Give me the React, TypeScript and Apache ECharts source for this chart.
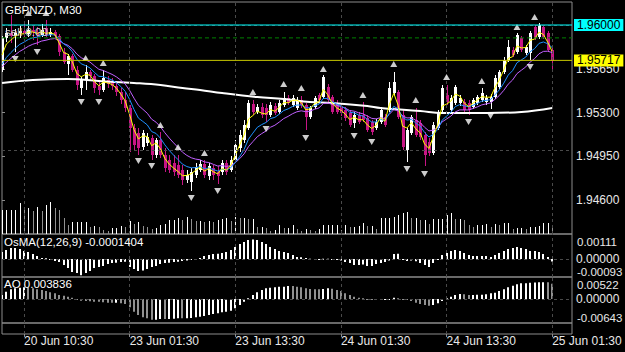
import React, { useEffect, useRef } from 'react';
import * as echarts from 'echarts';

// ---- data (M30 bars, index 0..125) ----
const opens = [
  1.95640,1.95896,1.95936,1.95912,1.95936,1.95952,1.95928,1.95960,1.95944,1.95920,
  1.95976,1.95920,1.95944,1.95912,1.95784,1.95688,1.95752,1.95640,1.95496,1.95560,
  1.95624,1.95592,1.95512,1.95480,1.95560,1.95544,1.95512,1.95464,1.95400,1.95336,
  1.95176,1.95136,1.95024,1.95056,1.95096,1.94960,1.95080,1.94960,1.94920,1.94896,
  1.94880,1.94840,1.94760,1.94744,1.94800,1.94840,1.94888,1.94792,1.94856,1.94824,
  1.94824,1.94896,1.94840,1.94920,1.95016,1.95080,1.95176,1.95368,1.95304,1.95344,
  1.95336,1.95280,1.95352,1.95304,1.95360,1.95416,1.95360,1.95336,1.95400,1.95360,
  1.95264,1.95344,1.95440,1.95424,1.95504,1.95424,1.95376,1.95344,1.95320,1.95296,
  1.95216,1.95280,1.95280,1.95256,1.95224,1.95176,1.95224,1.95264,1.95320,1.95456,
  1.95464,1.95280,1.95000,1.95136,1.95240,1.95216,1.95120,1.95064,1.94976,1.95176,
  1.95320,1.95440,1.95320,1.95376,1.95376,1.95384,1.95376,1.95344,1.95376,1.95400,
  1.95384,1.95384,1.95424,1.95504,1.95624,1.95720,1.95800,1.95784,1.95896,1.95776,
  1.95776,1.95984,1.95904,1.95984,1.95936,1.95800
];
const closes = [
  1.95896,1.95936,1.95912,1.95936,1.95952,1.95928,1.95960,1.95944,1.95920,1.95960,
  1.95920,1.95944,1.95912,1.95784,1.95704,1.95752,1.95640,1.95520,1.95560,1.95624,
  1.95592,1.95496,1.95480,1.95576,1.95528,1.95512,1.95464,1.95400,1.95336,1.95176,
  1.95040,1.95016,1.95136,1.95104,1.94960,1.95080,1.94960,1.94856,1.94840,1.94824,
  1.94800,1.94760,1.94800,1.94824,1.94864,1.94888,1.94800,1.94872,1.94800,1.94792,
  1.94896,1.94824,1.94920,1.95040,1.95120,1.95200,1.95376,1.95304,1.95344,1.95280,
  1.95280,1.95360,1.95296,1.95376,1.95416,1.95376,1.95416,1.95400,1.95360,1.95264,
  1.95336,1.95416,1.95400,1.95584,1.95400,1.95304,1.95304,1.95296,1.95256,1.95200,
  1.95280,1.95224,1.95240,1.95160,1.95144,1.95224,1.95320,1.95200,1.95496,1.95544,
  1.95264,1.95024,1.95160,1.95264,1.95120,1.95104,1.94960,1.94976,1.95200,1.95304,
  1.95496,1.95384,1.95416,1.95504,1.95416,1.95320,1.95320,1.95400,1.95424,1.95456,
  1.95416,1.95424,1.95576,1.95624,1.95720,1.95824,1.95760,1.95920,1.95800,1.95824,
  1.95936,1.95896,1.96000,1.95904,1.95800,1.95712
];
const highs = [
  1.95912,1.95976,1.96080,1.95968,1.96000,1.96008,1.96040,1.96000,1.95984,1.96008,
  1.96040,1.95976,1.95960,1.95928,1.95816,1.95768,1.95768,1.95672,1.95584,1.95680,
  1.95640,1.95608,1.95560,1.95640,1.95592,1.95576,1.95544,1.95496,1.95464,1.95360,
  1.95208,1.95176,1.95160,1.95136,1.95120,1.95096,1.95144,1.95016,1.94960,1.94960,
  1.94960,1.94880,1.94840,1.94856,1.94896,1.94920,1.94920,1.94896,1.94880,1.94872,
  1.94920,1.94920,1.94952,1.95080,1.95160,1.95240,1.95400,1.95400,1.95368,1.95376,
  1.95368,1.95384,1.95376,1.95400,1.95464,1.95440,1.95440,1.95424,1.95432,1.95376,
  1.95352,1.95432,1.95456,1.95600,1.95528,1.95440,1.95400,1.95368,1.95344,1.95320,
  1.95304,1.95304,1.95384,1.95280,1.95240,1.95248,1.95344,1.95288,1.95544,1.95624,
  1.95480,1.95320,1.95176,1.95280,1.95336,1.95240,1.95144,1.95096,1.95224,1.95320,
  1.95520,1.95520,1.95440,1.95520,1.95440,1.95408,1.95400,1.95416,1.95440,1.95496,
  1.95440,1.95448,1.95600,1.95640,1.95744,1.95880,1.95824,1.95936,1.95912,1.95840,
  1.95952,1.96000,1.96016,1.96000,1.95952,1.95816
];
const lows = [
  1.95624,1.95864,1.95856,1.95784,1.95896,1.95904,1.95904,1.95880,1.95840,1.95904,
  1.95904,1.95904,1.95896,1.95752,1.95688,1.95600,1.95624,1.95480,1.95440,1.95480,
  1.95560,1.95456,1.95440,1.95464,1.95496,1.95480,1.95432,1.95368,1.95304,1.94984,
  1.95000,1.94960,1.95000,1.95032,1.94920,1.94936,1.94936,1.94824,1.94816,1.94792,
  1.94776,1.94720,1.94736,1.94672,1.94776,1.94824,1.94776,1.94760,1.94760,1.94728,
  1.94800,1.94800,1.94824,1.94904,1.94984,1.95056,1.95160,1.95280,1.95288,1.95256,
  1.95224,1.95264,1.95280,1.95288,1.95344,1.95360,1.95344,1.95320,1.95336,1.95160,
  1.95248,1.95328,1.95384,1.95408,1.95384,1.95288,1.95288,1.95272,1.95232,1.95184,
  1.95176,1.95208,1.95224,1.95144,1.95120,1.95160,1.95208,1.95184,1.95304,1.95440,
  1.95248,1.95000,1.94904,1.95120,1.95104,1.95080,1.94872,1.94952,1.94960,1.95160,
  1.95304,1.95360,1.95304,1.95360,1.95352,1.95304,1.95280,1.95328,1.95360,1.95384,
  1.95360,1.95328,1.95408,1.95488,1.95608,1.95704,1.95744,1.95768,1.95784,1.95760,
  1.95720,1.95880,1.95888,1.95888,1.95784,1.95624
];
const volumes = [
  600,600,600,600,775,650,650,575,675,575,
  725,800,650,600,400,225,300,300,300,300,
  175,200,175,100,75,150,150,200,175,325,
  250,300,200,175,125,150,225,250,350,350,
  400,350,425,375,325,325,300,325,300,350,
  375,400,325,425,400,400,375,375,175,175,
  150,75,100,225,150,150,225,125,75,125,
  100,75,125,225,225,225,225,100,225,175,
  175,200,275,200,200,125,400,400,400,425,
  475,525,550,400,400,350,350,250,375,375,
  375,475,525,375,375,350,225,175,225,225,
  250,175,250,225,275,275,125,150,150,125,
  175,175,200,275,275,200
];
const osma = [
  0.00040,0.00051,0.00063,0.00063,0.00057,0.00046,0.00040,0.00028,0.00017,0.00006,
  0.00004,-0.00002,-0.00011,-0.00017,-0.00034,-0.00051,-0.00074,-0.00080,-0.00093,-0.00080,
  -0.00068,-0.00051,-0.00046,-0.00040,-0.00028,-0.00023,-0.00021,-0.00017,-0.00015,-0.00046,
  -0.00057,-0.00068,-0.00066,-0.00057,-0.00046,-0.00040,-0.00028,-0.00023,-0.00021,-0.00017,
  -0.00015,-0.00011,-0.00008,-0.00006,-0.00002,0.00006,0.00017,0.00023,0.00028,0.00030,
  0.00034,0.00040,0.00051,0.00068,0.00085,0.00097,0.00108,0.00111,0.00108,0.00097,
  0.00085,0.00068,0.00057,0.00046,0.00040,0.00034,0.00023,0.00011,0.00010,0.00006,
  0.00002,-0.00002,-0.00002,0.00002,0.00002,-0.00002,-0.00004,-0.00008,-0.00017,-0.00023,
  -0.00034,-0.00034,-0.00032,-0.00040,-0.00040,-0.00028,-0.00023,-0.00017,-0.00008,0.00028,
  0.00030,-0.00002,-0.00011,-0.00008,-0.00013,-0.00023,-0.00034,-0.00046,-0.00023,-0.00002,
  0.00023,0.00034,0.00046,0.00051,0.00046,0.00034,0.00023,0.00017,0.00017,0.00017,
  0.00017,0.00011,0.00023,0.00034,0.00046,0.00057,0.00063,0.00068,0.00063,0.00057,
  0.00046,0.00046,0.00040,0.00028,0.00011,-0.0001404
];
const ao = [
  0.00124,0.00226,0.00301,0.00332,0.00350,0.00363,0.00360,0.00332,0.00301,0.00279,
  0.00248,0.00208,0.00177,0.00124,0.00102,0.00071,0.00040,-0.00005,-0.00053,-0.00062,
  -0.00071,-0.00084,-0.00086,-0.00102,-0.00115,-0.00117,-0.00115,-0.00133,-0.00155,-0.00257,
  -0.00394,-0.00496,-0.00567,-0.00598,-0.00643,-0.00640,-0.00620,-0.00622,-0.00618,-0.00611,
  -0.00598,-0.00600,-0.00596,-0.00589,-0.00567,-0.00549,-0.00527,-0.00496,-0.00465,-0.00443,
  -0.00412,-0.00394,-0.00363,-0.00288,-0.00186,-0.00084,0.00022,0.00124,0.00208,0.00279,
  0.00332,0.00350,0.00363,0.00381,0.00383,0.00403,0.00400,0.00381,0.00363,0.00332,
  0.00310,0.00301,0.00299,0.00310,0.00332,0.00319,0.00279,0.00248,0.00177,0.00124,
  0.00071,0.00040,0.00022,-0.00003,-0.00010,-0.00031,-0.00033,-0.00031,-0.00010,0.00040,
  0.00022,0.00003,-0.00031,-0.00062,-0.00115,-0.00155,-0.00186,-0.00208,-0.00186,-0.00133,
  -0.00062,0.00022,0.00071,0.00124,0.00155,0.00146,0.00124,0.00126,0.00128,0.00130,
  0.00146,0.00177,0.00195,0.00248,0.00301,0.00363,0.00412,0.00456,0.00487,0.00490,
  0.00505,0.00508,0.00518,0.00522,0.00520,0.00470
];
const fractalUp = [
  [6,1.96096],[10,1.96096],[19,1.95736],[23,1.95696],[36,1.95200],[40,1.95024],
  [46,1.94976],[57,1.95464],[64,1.95528],[68,1.95496],[73,1.95648],[82,1.95440],
  [89,1.95688],[94,1.95400],[101,1.95584],[109,1.95552],[117,1.95984],[121,1.96064]
];
const fractalDown = [
  [3,1.95728],[8,1.95784],[18,1.95384],[22,1.95384],[31,1.94912],[34,1.94872],
  [43,1.94616],[49,1.94672],[60,1.95168],[69,1.95096],[80,1.95112],[84,1.95064],
  [92,1.94848],[96,1.94808],[106,1.95224],[111,1.95272],[120,1.95664]
];
const longMA = [
  [0,1.95536],[7,1.95560],[15,1.95568],[22,1.95552],[30,1.95536],[36,1.95520],
  [41,1.95496],[45,1.95480],[50,1.95456],[58,1.95424],[64,1.95408],[70,1.95384],
  [75,1.95376],[83,1.95352],[86,1.95336],[95,1.95312],[100,1.95296],[110,1.95296],
  [118,1.95304],[125,1.95336]
];
const priorLevel = 1.95624;
const priceTicks = [1.946, 1.9495, 1.953, 1.9565];
const timeTickIdx = [5, 29, 53, 77, 101, 125];
const timeTickLabels = ['20 Jun 10:30', '23 Jun 01:30', '23 Jun 13:30', '24 Jun 01:30', '24 Jun 13:30', '25 Jun 01:30'];
const levelCyan = 1.96;
const levelGreen = 1.95897;
const levelYellow = 1.95717;
const osmaRange = [0.00111, -0.00093];
const aoRange = [0.00522, -0.00643];
const symbolTitle = 'GBPNZD, M30';
const orderText = 'sell 0.00';
const osmaTitle = 'OsMA(12,26,9) -0.0001404';
const aoTitle = 'AO 0.003836';

const FONT = '"Liberation Sans", Arial, sans-serif';
const XMAX = 129.5;
const GRIDC = '#4a4a4a';
const BORDER = '#8c8c8c';
const TXT = '#e8e8e8';

function ema(src: number[], period: number, seed: number) {
  const k = 2 / (period + 1);
  let prev = seed;
  return src.map((v) => (prev = prev + k * (v - prev)));
}

export default function App() {
  const ref = useRef<HTMLDivElement>(null);
  useEffect(() => {
    document.body.style.margin = '0';
    const chart = echarts.init(ref.current!, undefined, { renderer: 'svg' });
    const idx = closes.map((_, i) => i);
    const fast = ema(closes, 3, priorLevel);
    const mid = ema(closes, 8, priorLevel);
    const slow = ema(closes, 13, priorLevel);

    const gridDefs = [
      { top: 2, height: 232 },
      { top: 234, height: 43 },
      { top: 277, height: 46 },
      { top: 323, height: 11 },
    ];
    const grid = gridDefs.map((g) => ({
      left: 2, width: 570, top: g.top, height: g.height, show: true,
      borderColor: BORDER, borderWidth: 1, backgroundColor: 'transparent',
    }));
    const xAxis = gridDefs.map((_, k) => ({
      type: 'value', gridIndex: k, min: 0, max: XMAX, show: k === 3,
      position: 'bottom',
      axisLine: { show: false }, splitLine: { show: false },
      axisTick: k === 3 ? { show: true, length: 3, customValues: timeTickIdx, lineStyle: { color: BORDER } } : { show: false },
      axisLabel: k === 3 ? {
        show: true, customValues: timeTickIdx, align: 'left', margin: 1,
        color: TXT, fontSize: 12, fontFamily: FONT,
        formatter: (v: number) => timeTickLabels[timeTickIdx.indexOf(Math.round(v))] ?? '',
      } : { show: false },
    }));
    const zeroLabel = { customValues: [0], formatter: (v: number) => Math.abs(v).toFixed(5), color: TXT, fontSize: 12, fontFamily: FONT, margin: 4 };
    const yAxis: any[] = [
      {
        type: 'value', gridIndex: 0, position: 'right', min: 1.94328, max: 1.96184,
        axisLine: { show: false }, splitLine: { show: false },
        axisTick: { show: true, length: 3, customValues: priceTicks, lineStyle: { color: BORDER } },
        axisLabel: { customValues: priceTicks, formatter: (v: number) => v.toFixed(5), color: TXT, fontSize: 12, fontFamily: FONT, margin: 4 },
      },
      { type: 'value', gridIndex: 0, min: 0, max: 5800, show: false },
      {
        type: 'value', gridIndex: 1, position: 'right', min: -0.0010242, max: 0.0014225,
        axisLine: { show: false }, splitLine: { show: false }, axisTick: { show: false }, axisLabel: zeroLabel,
      },
      {
        type: 'value', gridIndex: 2, position: 'right', min: -0.00744, max: 0.00682,
        axisLine: { show: false }, splitLine: { show: false }, axisTick: { show: false }, axisLabel: zeroLabel,
      },
      { type: 'value', gridIndex: 3, min: 0, max: 1, show: false },
    ];

    const gridLineStyle = { color: GRIDC, type: [3, 3], width: 1 };
    const vLines = timeTickIdx.map((v) => ({ xAxis: v }));
    const host = (xi: number, yi: number, y0: number, lines: any[], z = 1) => ({
      type: 'line', xAxisIndex: xi, yAxisIndex: yi, data: [[0, y0]], showSymbol: false, silent: true,
      lineStyle: { opacity: 0 }, z,
      markLine: { silent: true, symbol: ['none', 'none'], animation: false, label: { show: false }, lineStyle: gridLineStyle, data: lines },
    });

    const histo = (yi: number, xi: number, vals: number[], colorFn: (i: number) => string) => ({
      type: 'custom', xAxisIndex: xi, yAxisIndex: yi, z: 3, clip: true, silent: true,
      data: vals.map((v, i) => [i, v]), encode: { x: 0, y: 1 },
      renderItem: (params: any, api: any) => {
        const i = api.value(0), v = api.value(1);
        const p0 = api.coord([i, 0]);
        const p1 = api.coord([i, v]);
        const cx = Math.round(p0[0]);
        const top = Math.min(p0[1], p1[1]);
        const h = Math.max(1, Math.abs(p1[1] - p0[1]));
        return { type: 'rect', shape: { x: cx - 1, y: top, width: 2, height: h }, style: { fill: colorFn(params.dataIndex) } };
      },
    });

    const level = (v: number, color: string, type: any, box: string | null) => ({
      type: 'line', xAxisIndex: 0, yAxisIndex: 0, z: 6, silent: true, showSymbol: false,
      data: [[0, v], [XMAX, v]],
      lineStyle: { color, type, width: 1 },
      endLabel: box ? {
        show: true, formatter: () => v.toFixed(5), backgroundColor: box, color: '#000',
        padding: [1, 3, 0, 3], distance: 2, fontSize: 12, fontFamily: FONT, lineHeight: 11,
      } : { show: false },
    });

    const series: any[] = [
      host(0, 0, priceTicks[0], [...priceTicks.map((v) => ({ yAxis: v })), ...vLines]),
      {
        type: 'custom', xAxisIndex: 0, yAxisIndex: 1, z: 2, clip: true, silent: true,
        data: volumes.map((v, i) => [i, v]), encode: { x: 0, y: 1 },
        renderItem: (params: any, api: any) => {
          const i = api.value(0), v = api.value(1);
          const p0 = api.coord([i, 0]);
          const p1 = api.coord([i, v]);
          const di = params.dataIndex;
          const up = di === 0 || volumes[di] >= volumes[di - 1];
          const cx = Math.round(p0[0]) + 0.5;
          return { type: 'line', shape: { x1: cx, y1: p0[1], x2: cx, y2: p1[1] }, style: { stroke: up ? '#ffffff' : '#909090', lineWidth: 1 } };
        },
      },
      {
        type: 'custom', xAxisIndex: 0, yAxisIndex: 0, z: 3, clip: true, silent: true,
        data: idx.map((i) => [i, opens[i], closes[i], lows[i], highs[i]]),
        encode: { x: 0, y: [1, 2, 3, 4] },
        renderItem: (params: any, api: any) => {
          const i = api.value(0), o = api.value(1), c = api.value(2), l = api.value(3), h = api.value(4);
          const po = api.coord([i, o]), pc = api.coord([i, c]), pl = api.coord([i, l]), ph = api.coord([i, h]);
          const cx = Math.round(po[0]);
          const col = c >= o ? '#ffffff' : '#c71585';
          const top = Math.min(po[1], pc[1]);
          const hh = Math.max(1, Math.abs(po[1] - pc[1]));
          return {
            type: 'group', children: [
              { type: 'line', shape: { x1: cx + 0.5, y1: ph[1], x2: cx + 0.5, y2: pl[1] }, style: { stroke: col, lineWidth: 1 } },
              { type: 'rect', shape: { x: cx - 1, y: top, width: 3, height: hh }, style: { fill: col } },
            ],
          };
        },
      },
      { type: 'line', xAxisIndex: 0, yAxisIndex: 0, z: 4, silent: true, showSymbol: false, smooth: 0.4, data: longMA, lineStyle: { color: '#ffffff', width: 2 } },
      { type: 'line', xAxisIndex: 0, yAxisIndex: 0, z: 4, silent: true, showSymbol: false, data: idx.map((i) => [i, slow[i]]), lineStyle: { color: '#c060ff', width: 1 } },
      { type: 'line', xAxisIndex: 0, yAxisIndex: 0, z: 4, silent: true, showSymbol: false, data: idx.map((i) => [i, mid[i]]), lineStyle: { color: '#1e90ff', width: 1 } },
      { type: 'line', xAxisIndex: 0, yAxisIndex: 0, z: 4, silent: true, showSymbol: false, data: idx.map((i) => [i, fast[i]]), lineStyle: { color: '#ffff00', width: 1 } },
      { type: 'scatter', xAxisIndex: 0, yAxisIndex: 0, z: 5, silent: true, symbol: 'triangle', symbolSize: [7, 6], data: fractalUp, itemStyle: { color: '#ffffff' } },
      { type: 'scatter', xAxisIndex: 0, yAxisIndex: 0, z: 5, silent: true, symbol: 'triangle', symbolRotate: 180, symbolSize: [7, 6], data: fractalDown, itemStyle: { color: '#ffffff' } },
      level(levelGreen, '#008000', [4, 3], null),
      level(levelCyan, '#00ffff', 'solid', '#00ffff'),
      level(levelYellow, '#c8c800', 'solid', '#ffff00'),
      host(1, 2, 0, [{ yAxis: 0 }, ...vLines]),
      histo(2, 1, osma, () => '#ffffff'),
      host(2, 3, 0, [{ yAxis: 0 }, ...vLines]),
      histo(3, 2, ao, (i) => (i === 0 || ao[i] > ao[i - 1] ? '#ffffff' : '#909090')),
      host(3, 4, 0.5, vLines),
    ];

    const txt = (left: number, top: number, text: string, fill = '#ffffff') => ({
      type: 'text', left, top, z: 10, silent: true,
      style: { text, fill, fontSize: 11.5, fontFamily: FONT },
    });

    chart.setOption({
      animation: false,
      backgroundColor: '#000000',
      grid, xAxis, yAxis, series,
    });

    // sub-window max/min scale labels: placed through the axis scale, kept inside the panel (as the terminal does)
    const scaleLabel = (yAxisIndex: number, v: number, top: number, bottom: number) => {
      const py = chart.convertToPixel({ yAxisIndex } as any, v) as number;
      const y = Math.min(Math.max(py, top + 7.5), bottom - 5);
      return {
        type: 'text', x: 577, y, z: 10, silent: true,
        style: { text: v.toFixed(5), fill: TXT, fontSize: 11.5, fontFamily: FONT, verticalAlign: 'middle', align: 'left' },
      };
    };

    chart.setOption({
      graphic: [
        txt(5, 4, symbolTitle),
        txt(5, 26, orderText, '#d0d0d0'),
        txt(4, 236, osmaTitle),
        txt(4, 278, aoTitle),
        scaleLabel(2, osmaRange[0], 234, 277),
        scaleLabel(2, osmaRange[1], 234, 277),
        scaleLabel(3, aoRange[0], 277, 323),
        scaleLabel(3, aoRange[1], 277, 323),
      ],
    });
    return () => chart.dispose();
  }, []);
  return <div ref={ref} style={{ position: 'fixed', left: 0, top: 0, width: 625, height: 352, background: '#000' }} />;
}
